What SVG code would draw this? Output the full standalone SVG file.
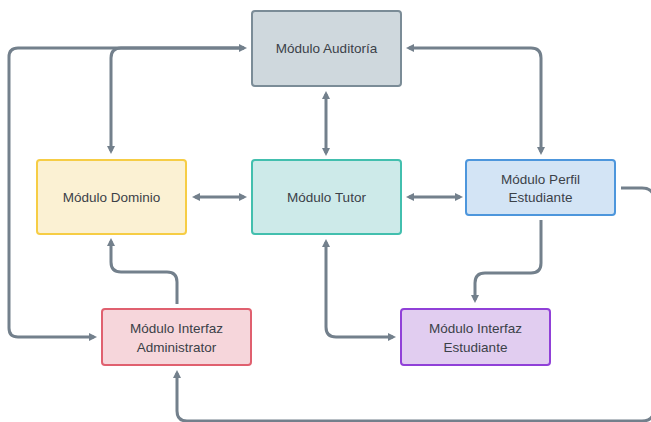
<svg xmlns="http://www.w3.org/2000/svg" width="651" height="422" viewBox="0 0 651 422">
  <style>
    .box { stroke-width: 2; }
    .lbl { font-family: "Liberation Sans", Arial, sans-serif; font-size: 13.5px; fill: #3b4148; text-anchor: middle; dominant-baseline: central; }
    .edge { fill: none; stroke: #73808c; stroke-width: 3; }
  </style>
  <defs>
    <marker id="arr" viewBox="0 0 8 8" markerWidth="8" markerHeight="8" refX="5" refY="4" markerUnits="userSpaceOnUse" orient="auto-start-reverse">
      <path d="M0,0 L8,4 L0,8 z" fill="#73808c"/>
    </marker>
  </defs>
  <rect width="651" height="422" fill="#ffffff"/>

  <g id="connectors">
    <path class="edge" d="M244 48 H18 Q9 48 9 57 V328 Q9 337 18 337 H94" marker-start="url(#arr)" marker-end="url(#arr)"/>
    <path class="edge" d="M244 48 H121 Q111 48 111 58 V151" marker-end="url(#arr)"/>
    <path class="edge" d="M326 94 V153" marker-start="url(#arr)" marker-end="url(#arr)"/>
    <path class="edge" d="M409 48 H531 Q541 48 541 58 V152" marker-start="url(#arr)" marker-end="url(#arr)"/>
    <path class="edge" d="M195 197 H244" marker-start="url(#arr)" marker-end="url(#arr)"/>
    <path class="edge" d="M409 197 H460" marker-start="url(#arr)" marker-end="url(#arr)"/>
    <path class="edge" d="M177 304 V282 Q177 272 167 272 H121 Q111 272 111 262 V241" marker-end="url(#arr)"/>
    <path class="edge" d="M326 242 V327 Q326 337 336 337 H393" marker-start="url(#arr)" marker-end="url(#arr)"/>
    <path class="edge" d="M541 220 V263 Q541 273 531 273 H485 Q475 273 475 283 V300" marker-end="url(#arr)"/>
    <path class="edge" d="M621 188 H642 Q654 188 654 200 V409 Q654 421 642 421 H187 Q177 421 177 411 V373" marker-end="url(#arr)"/>
  </g>

  <g id="auditoria">
    <rect class="box" x="252" y="11" width="149" height="75" rx="3" fill="#cfd8dd" stroke="#7b8c97"/>
    <text class="lbl" x="326.5" y="48">Módulo Auditoría</text>
  </g>
  <g id="dominio">
    <rect class="box" x="37" y="160" width="149" height="74" rx="3" fill="#fbf1d3" stroke="#f6cd45"/>
    <text class="lbl" x="111.5" y="197">Módulo Dominio</text>
  </g>
  <g id="tutor">
    <rect class="box" x="252" y="160" width="149" height="74" rx="3" fill="#cdeae9" stroke="#42bfae"/>
    <text class="lbl" x="326.5" y="197">Módulo Tutor</text>
  </g>
  <g id="perfil">
    <rect class="box" x="466" y="160" width="149" height="55" rx="3" fill="#d3e4f5" stroke="#4d96dc"/>
    <text class="lbl" x="540.5" y="179">Módulo Perfil</text>
    <text class="lbl" x="540.5" y="197">Estudiante</text>
  </g>
  <g id="admin">
    <rect class="box" x="102" y="309" width="149" height="56" rx="3" fill="#f6d6db" stroke="#e0606f"/>
    <text class="lbl" x="176.5" y="328">Módulo Interfaz</text>
    <text class="lbl" x="176.5" y="347">Administrator</text>
  </g>
  <g id="estudiante">
    <rect class="box" x="401" y="309" width="149" height="56" rx="3" fill="#e1cdf0" stroke="#9040d8"/>
    <text class="lbl" x="475.5" y="328">Módulo Interfaz</text>
    <text class="lbl" x="475.5" y="347">Estudiante</text>
  </g>
</svg>
